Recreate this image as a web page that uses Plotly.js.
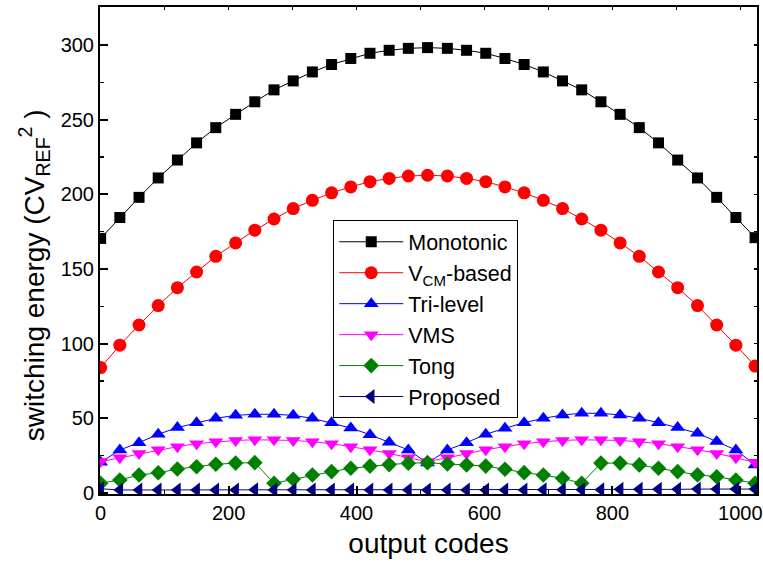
<!DOCTYPE html>
<html>
<head>
<meta charset="utf-8">
<script src="https://cdn.plot.ly/plotly-3.0.1.min.js"></script>
<style>html,body{margin:0;padding:0;background:#fff;}#chart{width:763px;height:566px;}</style>
</head>
<body>
<div id="chart"></div>
<script>
var codes = [0,30,60,90,120,150,180,211,241,271,301,331,361,391,421,451,481,511,542,572,602,632,662,692,722,752,782,812,842,872,902,933,963,993,1023];
var monotonic = [170.5,184.5,198,211,223,234.5,244.7,253.6,262,270,276,282,287,291,294.5,296.5,297.8,298.3,297.8,296.5,294.5,291,287,282,276,270,262,253.6,244.7,234.5,223,211,198,184.5,171];
var vcmBased = [84,99,112.5,125.5,137.5,148,158.5,167.5,176,183.5,190.5,196,201,205,208.5,210.7,212.3,212.8,212.3,210.7,208.5,205,201,196,190.5,183.5,176,167.5,158.5,148,137.5,125.5,112.5,99,85];
var triLevel = [20.5,28.8,33.7,39.3,43.8,47.1,50,52,52.7,52.7,52,50,47,43.5,39,34,28.8,20,28.8,33.7,39.3,43.3,47.1,50,52.2,53.4,53.4,52.2,50,47.1,43.8,40,34.4,28.8,18.8];
var vms = [21,23.5,26.5,29,31,33,34.3,35.2,35.6,35.6,35.2,34.3,33,31,29,26.5,23.5,21,23.5,26.5,29,31,33,34.3,35.2,35.6,35.6,35.2,34.3,33,31,29,26.5,23.5,20.5];
var tong = [6.5,8.7,12,13.5,16,17.6,19.2,20,20.3,6.5,9.2,12,14.3,16.5,18,19,19.9,20.3,19.4,18.8,18,15.9,13.6,12,9.8,6.5,20,20,18.8,16.5,14.3,12.1,10.9,8.7,6.5];
var proposed = [2.8,2,2,2,2,2,2,2,2.2,2,2,2,2,2,2,2,2,2,2,2,2,2,2,2.2,2.2,2.2,2.2,2.4,2.4,2.4,2.4,2.6,2.6,2.6,2.6];

var seriesNames = ['Monotonic','V<sub>CM</sub>-based','Tri-level','VMS','Tong','Proposed'];
var seriesData = [monotonic, vcmBased, triLevel, vms, tong, proposed];
var colors = ['#000000','#ff0000','#0000ff','#ff00ff','#008000','#000080'];
var symbols = ['square','circle','triangle-up','triangle-down','diamond','triangle-left'];
var sizes = [11,13,13,13,12,13];

var traces = seriesData.map(function(d,i){
  return {
    x: codes, y: d, name: seriesNames[i], type: 'scatter', mode: 'lines+markers',
    line: {color: colors[i], width: 1},
    marker: {symbol: symbols[i], size: sizes[i], color: colors[i], line: {width: 0}}
  };
});
// empty helper trace so the mirrored (top/right) tick axes get a subplot
traces.push({x: [], y: [], xaxis: 'x2', yaxis: 'y2', showlegend: false, hoverinfo: 'skip', mode: 'markers'});

var font = 'Liberation Sans, Arial, sans-serif';
var xRange = [-1, 1026];
var yRange = [-0.7, 325.5];
var layout = {
  width: 763, height: 566,
  margin: {l: 100, r: 6, t: 7, b: 72},
  paper_bgcolor: '#ffffff', plot_bgcolor: '#ffffff',
  font: {family: font, color: '#000'},
  showlegend: true,
  legend: {
    x: 0.355, y: 0.562, xanchor: 'left', yanchor: 'top',
    bgcolor: '#ffffff', bordercolor: '#000', borderwidth: 1,
    font: {family: font, size: 21.5, color: '#000'},
    tracegroupgap: 0, itemwidth: 64
  },
  xaxis: {
    range: xRange, showgrid: false, zeroline: false,
    showline: true, linecolor: '#000', linewidth: 2, mirror: true,
    ticks: 'inside', ticklen: 8, tickwidth: 2, tickcolor: '#000',
    tick0: 0, dtick: 200,
    minor: {ticks: 'inside', ticklen: 4, tickwidth: 1.5, tickcolor: '#000', dtick: 100, tick0: 0, showgrid: false},
    tickfont: {family: font, size: 20, color: '#000'},
    title: {text: 'output codes', font: {family: font, size: 28, color: '#000'}, standoff: 10}
  },
  yaxis: {
    range: yRange, showgrid: false, zeroline: false,
    showline: true, linecolor: '#000', linewidth: 2, mirror: true,
    ticks: 'inside', ticklen: 8, tickwidth: 2, tickcolor: '#000',
    tick0: 0, dtick: 50,
    minor: {ticks: 'inside', ticklen: 4, tickwidth: 1.5, tickcolor: '#000', dtick: 25, tick0: 0, showgrid: false},
    tickfont: {family: font, size: 20, color: '#000'}
  },
  xaxis2: {
    overlaying: 'x', anchor: 'y2', side: 'top', range: xRange,
    showgrid: false, zeroline: false, showline: false, showticklabels: false,
    ticks: 'inside', ticklen: 3, tickwidth: 1.5, tickcolor: '#000', tick0: 0, dtick: 100
  },
  yaxis2: {
    overlaying: 'y', anchor: 'x2', side: 'right', range: yRange,
    showgrid: false, zeroline: false, showline: false, showticklabels: false,
    ticks: 'inside', ticklen: 3, tickwidth: 1.5, tickcolor: '#000', tick0: 0, dtick: 25
  },
  annotations: [{
    xref: 'paper', yref: 'paper', x: -0.1, y: 0.45, xanchor: 'center', yanchor: 'middle',
    textangle: -90, showarrow: false,
    text: 'switching energy (CV<sub>REF</sub><sup>2</sup> )',
    font: {family: font, size: 28, color: '#000'}
  }]
};

Plotly.newPlot('chart', traces, layout, {displayModeBar: false, staticPlot: true});
</script>
</body>
</html>
